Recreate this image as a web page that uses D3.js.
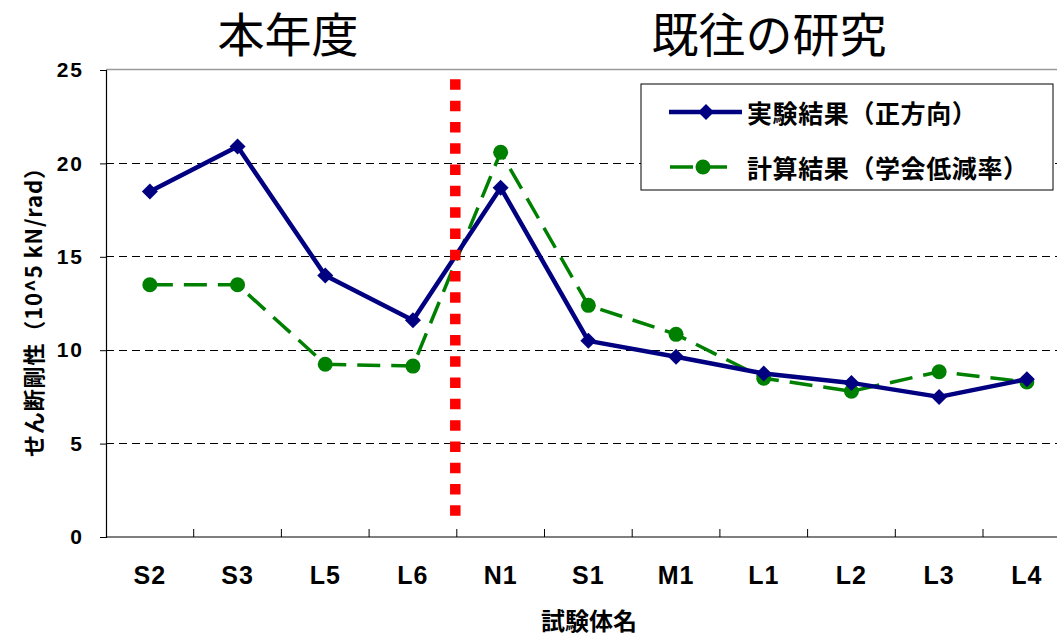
<!DOCTYPE html>
<html lang="ja">
<head>
<meta charset="utf-8">
<script src="https://cdn.jsdelivr.net/npm/d3@7/dist/d3.min.js"></script>
<style>
  html, body { margin: 0; padding: 0; background: #fff; }
  svg { display: block; }
  .jp { font-family: "Noto Sans CJK JP", "Noto Sans", sans-serif; }
  .lat { font-family: "Liberation Sans", Arial, sans-serif; }
</style>
</head>
<body>
<svg id="chart" width="1057" height="635"></svg>
<script>
// Specimens along the x axis
const categories = ["S2", "S3", "L5", "L6", "N1", "S1", "M1", "L1", "L2", "L3", "L4"];
// Shear stiffness, 10^5 kN/rad
const measured   = [18.5, 20.9, 14.0, 11.6, 18.7, 10.5, 9.65, 8.75, 8.25, 7.5, 8.45];
const calculated = [13.5, 13.5, 9.25, 9.15, 20.6, 12.4, 10.85, 8.5, 7.8, 8.85, 8.3];
const yTicks = [0, 5, 10, 15, 20, 25];
const seriesNames = ["実験結果（正方向）", "計算結果（学会低減率）"];
const groupTitles = ["本年度", "既往の研究"];
const yTitle = "せん断剛性（10^5 kN/rad）";
const xTitle = "試験体名";
// vertical extent of the divider between this year's and earlier specimens
const dividerSpan = [1.07, 24.5];

(function () {
const svg = d3.select("#chart");
const W = 1057;
const plotLeft = 106, plotTop = 70, plotBottom = 537;
const step = 87.7;

const x = d3.scaleBand().domain(categories).range([plotLeft, plotLeft + step * categories.length]).padding(0);
const y = d3.scaleLinear().domain([0, 25]).range([plotBottom, plotTop]);
const cx = c => x(c) + x.bandwidth() / 2;

// horizontal dashed gridlines
svg.append("g").selectAll("line")
  .data(yTicks.filter(v => v > 0 && v < 25))
  .join("line")
  .attr("x1", plotLeft).attr("x2", W)
  .attr("y1", d => y(d)).attr("y2", d => y(d))
  .attr("stroke", "#000").attr("stroke-width", 1)
  .attr("stroke-dasharray", "8,5")
  .attr("shape-rendering", "crispEdges");

// plot-area top border
svg.append("line")
  .attr("x1", plotLeft).attr("x2", W)
  .attr("y1", y(25) - 0.5).attr("y2", y(25) - 0.5)
  .attr("stroke", "#9a9a9a").attr("stroke-width", 1.5);

// y axis
const yAxis = d3.axisLeft(y).tickValues(yTicks).tickSize(6).tickPadding(18).tickFormat(d3.format("d"));
const gy = svg.append("g").attr("transform", `translate(${plotLeft},0)`).call(yAxis);
gy.select(".domain").attr("stroke", "#000").attr("stroke-width", 1.2);
gy.selectAll(".tick line").attr("stroke", "#000");
gy.selectAll(".tick text")
  .attr("class", "lat")
  .attr("font-size", 21).attr("font-weight", "bold")
  .attr("letter-spacing", 2)
  .attr("dx", 2)
  .attr("fill", "#000");

// x axis: ticks at category boundaries pointing into the plot
svg.append("line")
  .attr("x1", plotLeft).attr("x2", W)
  .attr("y1", plotBottom).attr("y2", plotBottom)
  .attr("stroke", "#000").attr("stroke-width", 1.2);
svg.append("g").selectAll("line")
  .data(categories.slice(1))
  .join("line")
  .attr("x1", d => x(d)).attr("x2", d => x(d))
  .attr("y1", plotBottom).attr("y2", plotBottom - 8)
  .attr("stroke", "#000").attr("stroke-width", 1);
svg.append("g").selectAll("text")
  .data(categories)
  .join("text")
  .attr("class", "lat")
  .attr("x", d => cx(d)).attr("y", 575)
  .attr("text-anchor", "middle").attr("dominant-baseline", "central")
  .attr("font-size", 25).attr("font-weight", "bold")
  .attr("letter-spacing", 1)
  .text(d => d);

// axis titles
svg.append("text")
  .attr("class", "jp")
  .attr("x", 589).attr("y", 619)
  .attr("text-anchor", "middle").attr("dominant-baseline", "central")
  .attr("font-size", 24).attr("font-weight", "bold")
  .text(xTitle);
svg.append("text")
  .attr("class", "jp")
  .attr("transform", "translate(32,307) rotate(-90)")
  .attr("text-anchor", "middle").attr("dominant-baseline", "central")
  .attr("font-size", 22).attr("font-weight", "bold")
  .attr("textLength", 300).attr("lengthAdjust", "spacing")
  .text(yTitle);

// group titles above the two halves
svg.append("g").selectAll("text")
  .data(groupTitles)
  .join("text")
  .attr("class", "jp")
  .attr("x", (d, i) => i === 0 ? 288 : 769).attr("y", 31)
  .attr("text-anchor", "middle").attr("dominant-baseline", "central")
  .attr("font-size", 47).attr("font-weight", 400)
  .text(d => d);

const blue = "#000080", green = "#008000";
const line = d3.line().x(d => cx(d.c)).y(d => y(d.v));
const measuredPts = categories.map((c, i) => ({ c, v: measured[i] }));
const calcPts = categories.map((c, i) => ({ c, v: calculated[i] }));

const diamond = d3.symbol(d3.symbolSquare, 128);

// calculated series (dashed, circles)
svg.append("path").datum(calcPts)
  .attr("d", line).attr("fill", "none")
  .attr("stroke", green).attr("stroke-width", 3.5)
  .attr("stroke-dasharray", "23,11");
svg.append("g").selectAll("circle")
  .data(calcPts).join("circle")
  .attr("cx", d => cx(d.c)).attr("cy", d => y(d.v)).attr("r", 7.5)
  .attr("fill", green);

// measured series (solid, diamonds)
svg.append("path").datum(measuredPts)
  .attr("d", line).attr("fill", "none")
  .attr("stroke", blue).attr("stroke-width", 4.5)
  .attr("stroke-linejoin", "round");
svg.append("g").selectAll("path")
  .data(measuredPts).join("path")
  .attr("d", diamond)
  .attr("transform", d => `translate(${cx(d.c)},${y(d.v)}) rotate(45)`)
  .attr("fill", blue);

// red dotted divider between L6 and N1
svg.append("line")
  .attr("x1", x("N1") - 1.5).attr("x2", x("N1") - 1.5)
  .attr("y1", y(dividerSpan[1])).attr("y2", y(dividerSpan[0]))
  .attr("stroke", "#ff0000").attr("stroke-width", 10.5)
  .attr("stroke-dasharray", "10.5,10.8");

// legend
const lg = svg.append("g");
lg.append("rect")
  .attr("x", 641).attr("y", 84).attr("width", 412).attr("height", 106)
  .attr("fill", "#fff").attr("stroke", "#000").attr("stroke-width", 1);
lg.append("line")
  .attr("x1", 669).attr("x2", 742).attr("y1", 112).attr("y2", 112)
  .attr("stroke", blue).attr("stroke-width", 4.5);
lg.append("path").attr("d", diamond)
  .attr("transform", "translate(706,112) rotate(45)").attr("fill", blue);
lg.append("line")
  .attr("x1", 670).attr("x2", 730).attr("y1", 167).attr("y2", 167)
  .attr("stroke", green).attr("stroke-width", 3.5)
  .attr("stroke-dasharray", "23,11");
lg.append("circle").attr("cx", 703).attr("cy", 167).attr("r", 7.5).attr("fill", green);
lg.selectAll("text")
  .data(seriesNames).join("text")
  .attr("class", "jp")
  .attr("x", 747).attr("y", (d, i) => i === 0 ? 112 : 167)
  .attr("dominant-baseline", "central")
  .attr("font-size", 25).attr("font-weight", "bold")
  .attr("letter-spacing", 0.6)
  .text(d => d);
})();
</script>
</body>
</html>
